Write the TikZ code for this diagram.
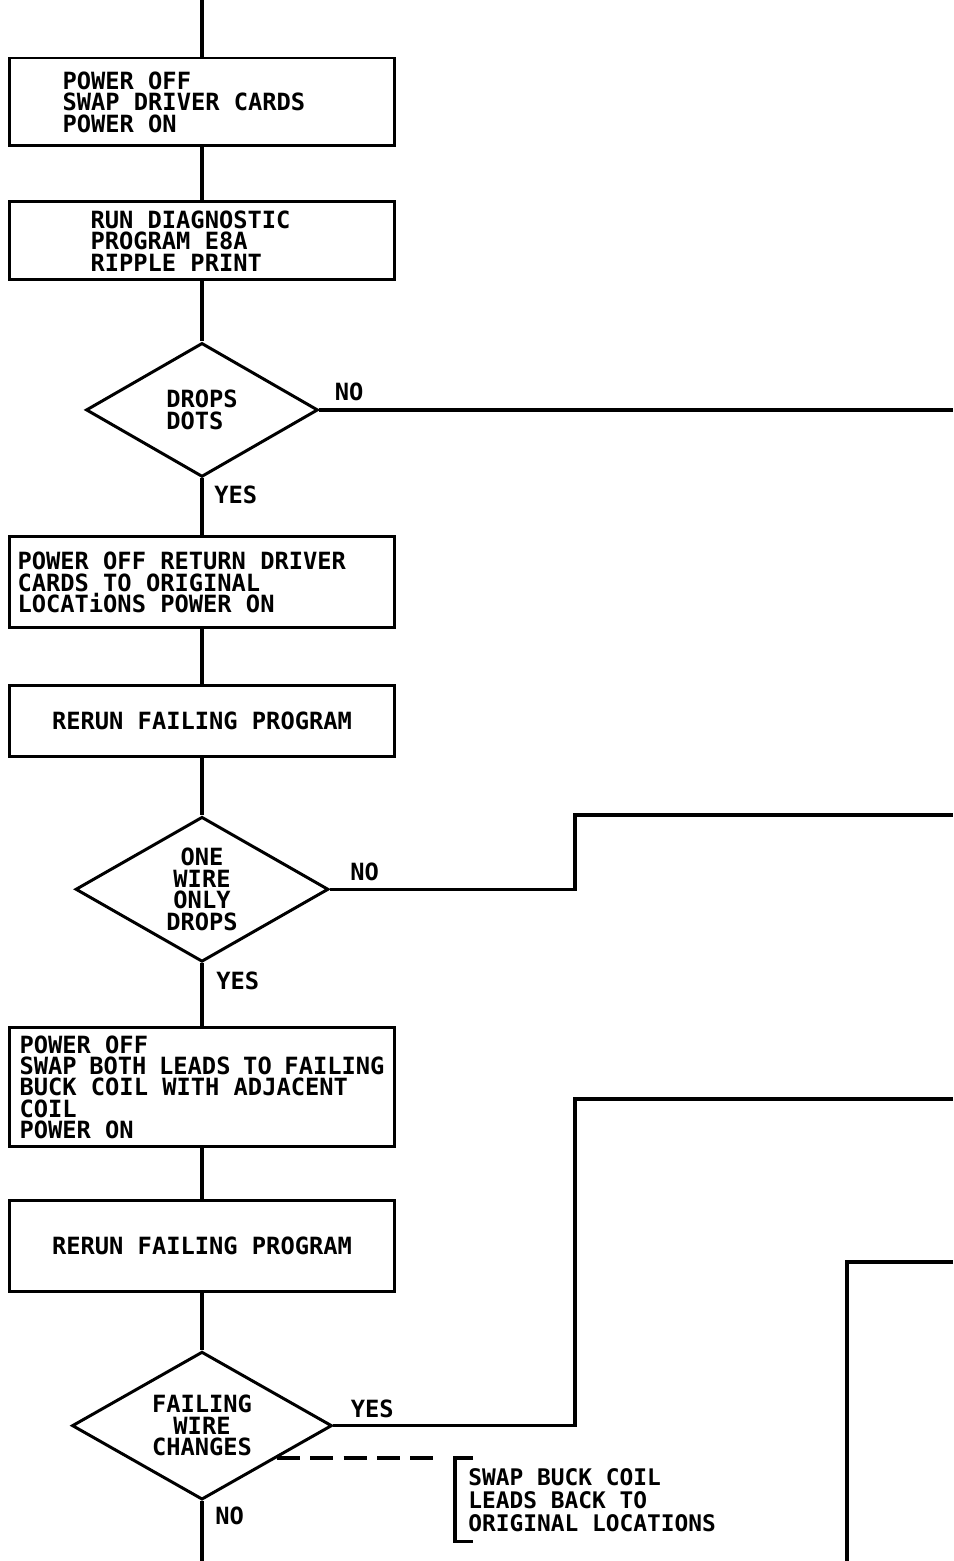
\documentclass[tikz,border=0pt]{standalone}
\usepackage{fontspec}
\newfontfamily\lettering{DejaVu Sans Mono}
\newcommand{\chartfont}{\lettering\bfseries\fontsize{13.5pt}{12.2pt}\selectfont}
\newcommand{\notefont}{\lettering\bfseries\fontsize{13pt}{13pt}\selectfont}
\usetikzlibrary{shapes.geometric,positioning,calc}
\tikzset{
  stepbox/.style={draw, line width=1.7pt, minimum width=7.7cm, font=\chartfont,
                  execute at begin node={\spaceskip=0pt\xspaceskip=0pt}},
  decision/.style={draw, diamond, line width=1.7pt, inner sep=0pt, aspect=1.7,
                   align=center, font=\chartfont},
  lbl/.style={inner sep=0pt, font=\chartfont},
  note/.style={align=left, inner xsep=0.26cm, inner ysep=0.2cm, font=\notefont,
               execute at begin node={\spaceskip=0pt\xspaceskip=0pt}},
  flow/.style={line width=1.9pt},
  noteline/.style={line width=1.9pt, dash pattern=on 13pt off 6pt}
}

\begin{document}
\begin{tikzpicture}[x=0.02cm, y=-0.02cm, node distance=1.2cm]
  \useasboundingbox (0,0) rectangle (953,1561);

  % main column
  \node[stepbox, minimum height=1.76cm, align=left, inner xsep=1.06cm, text width=5.58cm] (off1) at (202,102)
    {POWER OFF\\SWAP DRIVER CARDS\\POWER ON};
  \node[stepbox, minimum height=1.56cm, align=left, inner xsep=1.62cm, text width=4.46cm, below=1.06cm of off1] (diag)
    {RUN DIAGNOSTIC\\PROGRAM E8A\\RIPPLE PRINT};
  \node[decision, minimum width=4.64cm, minimum height=2.68cm, align=left, below=1.2cm of diag] (dots)
    {DROPS\\DOTS};
  \node[stepbox, minimum height=1.82cm, align=left, inner xsep=0.16cm, text width=7.38cm, below=1.14cm of dots] (back)
    {POWER OFF RETURN DRIVER\\CARDS TO ORIGINAL\\LOCATiONS POWER ON};
  \node[stepbox, minimum height=1.42cm, below=1.1cm of back] (rerun1) {RERUN FAILING PROGRAM};
  \node[decision, minimum width=5.06cm, minimum height=2.9cm, below=1.14cm of rerun1] (wire)
    {ONE\\WIRE\\ONLY\\DROPS};
  \node[stepbox, minimum height=2.38cm, align=left, inner xsep=0.2cm, text width=7.3cm, below=1.26cm of wire] (swap)
    {POWER OFF\\SWAP BOTH LEADS TO FAILING\\BUCK COIL WITH ADJACENT\\COIL\\POWER ON};
  \node[stepbox, minimum height=1.82cm, below=1.02cm of swap] (rerun2) {RERUN FAILING PROGRAM};
  \node[decision, minimum width=5.2cm, minimum height=2.96cm, below=1.14cm of rerun2] (fail)
    {FAILING\\WIRE\\CHANGES};

  % branch labels
  \node[lbl, anchor=south west] (dotsno) at ([shift={(15,-9)}]dots.east) {NO};
  \node[lbl, anchor=north west] (dotsyes) at ([shift={(12,7)}]dots.south) {YES};
  \node[lbl, anchor=south west] (wireno) at ([shift={(20,-8)}]wire.east) {NO};
  \node[lbl, anchor=north west] (wireyes) at ([shift={(14,8)}]wire.south) {YES};
  \node[lbl, anchor=south west] (failyes) at ([shift={(17,-7)}]fail.east) {YES};
  \node[lbl, anchor=north west] (failno) at ([shift={(13,5)}]fail.south) {NO};

  % free ends
  \coordinate (entry) at (off1.north |- 0,0);
  \coordinate (exit) at (fail.south |- 0,1561);
  \coordinate (dotsout) at (dots.east -| 953,0);
  \coordinate (wireturn) at (575,815);
  \coordinate (wireout) at (953,815);
  \coordinate (failturn) at (575,1099);
  \coordinate (failout) at (953,1099);
  \coordinate (sidein) at (953,1262);
  \coordinate (sideend) at (847,1561);

  % connectors
  \draw[flow] (entry) -- (off1);
  \draw[flow] (off1) -- (diag);
  \draw[flow] (diag) -- (dots);
  \draw[flow] (dots) -- (back);
  \draw[flow] (back) -- (rerun1);
  \draw[flow] (rerun1) -- (wire);
  \draw[flow] (wire) -- (swap);
  \draw[flow] (swap) -- (rerun2);
  \draw[flow] (rerun2) -- (fail);
  \draw[flow] (fail) -- (exit);
  \draw[flow] (dots.east) -- (dotsout);
  \draw[flow] (wire.east) -| (wireturn) -- (wireout);
  \draw[flow] (fail.east) -| (failturn) -- (failout);
  \draw[flow] (sidein) -| (sideend);

  % note
  \coordinate (notefrom) at ($(fail.east)!0.43!(fail.south)$);
  \node[note, anchor=north west] (swapback) at (notefrom -| 455,0)
    {SWAP BUCK COIL\\LEADS BACK TO\\ORIGINAL LOCATIONS};
  \draw[noteline] (notefrom) -- ($(notefrom -| swapback.west)+(-13,0)$);
  \draw[flow] ([shift={(18,0)}]swapback.north west) -- (swapback.north west)
    -- (swapback.south west) -- ++(18,0);
\end{tikzpicture}
\end{document}
